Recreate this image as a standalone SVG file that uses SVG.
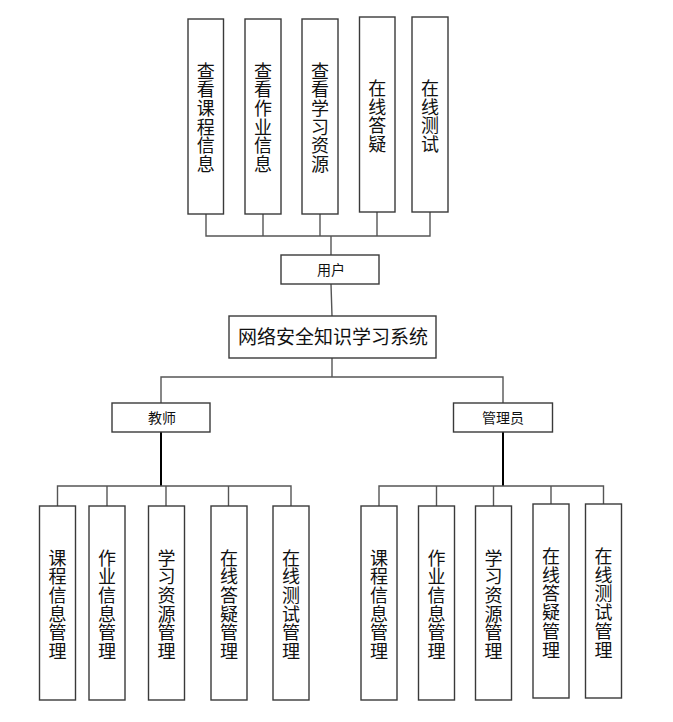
<svg xmlns="http://www.w3.org/2000/svg" width="673" height="722" viewBox="0 0 673 722">
<style>
.box{fill:#fff;stroke:#3a3a3a;stroke-width:1.4}
.t{font-family:"Noto Sans CJK SC","Noto Sans",sans-serif;fill:#111;text-anchor:middle}
.v{font-size:18px}
.s{font-size:14px}
.conn line,.conn polyline{stroke:#555;stroke-width:1.4;fill:none}
.conn .thick{stroke:#000;stroke-width:2}
</style>
<rect width="673" height="722" fill="#fff"/>
<g class="conn">
<polyline points="206,214 206,236 430,236 430,212"/>
<line x1="263" y1="214" x2="263" y2="236"/>
<line x1="320" y1="214" x2="320" y2="236"/>
<line x1="377" y1="212" x2="377" y2="236"/>
<line x1="331" y1="236" x2="331" y2="255"/>
<line x1="331" y1="284" x2="332" y2="316"/>
<line x1="332" y1="358" x2="332" y2="377"/>
<polyline points="161,403 161,377 503,377 503,403"/>
<line class="thick" x1="161" y1="432" x2="161" y2="486"/>
<polyline points="57.5,506 57.5,486 291,486 291,506"/>
<line x1="107" y1="486" x2="107" y2="506"/>
<line x1="166" y1="486" x2="166" y2="506"/>
<line x1="228.5" y1="486" x2="228.5" y2="506"/>
<line class="thick" x1="503" y1="432" x2="503" y2="486"/>
<polyline points="379,506 379,486 603.5,486 603.5,504"/>
<line x1="436.5" y1="486" x2="436.5" y2="506"/>
<line x1="493.5" y1="486" x2="493.5" y2="506"/>
<line x1="551" y1="486" x2="551" y2="504"/>
</g>
<g id="top1"><rect class="box" x="188" y="19" width="35.5" height="195"/><text class="t v" x="205.75"><tspan x="205.75" y="77.5">查</tspan><tspan x="205.75" dy="18.7">看</tspan><tspan x="205.75" dy="18.7">课</tspan><tspan x="205.75" dy="18.7">程</tspan><tspan x="205.75" dy="18.7">信</tspan><tspan x="205.75" dy="18.7">息</tspan></text></g>
<g id="top2"><rect class="box" x="245" y="19" width="36" height="195"/><text class="t v"><tspan x="263" y="77.5">查</tspan><tspan x="263" dy="18.7">看</tspan><tspan x="263" dy="18.7">作</tspan><tspan x="263" dy="18.7">业</tspan><tspan x="263" dy="18.7">信</tspan><tspan x="263" dy="18.7">息</tspan></text></g>
<g id="top3"><rect class="box" x="302" y="19" width="36" height="195"/><text class="t v"><tspan x="320" y="77.5">查</tspan><tspan x="320" dy="18.7">看</tspan><tspan x="320" dy="18.7">学</tspan><tspan x="320" dy="18.7">习</tspan><tspan x="320" dy="18.7">资</tspan><tspan x="320" dy="18.7">源</tspan></text></g>
<g id="top4"><rect class="box" x="359.5" y="17" width="35.5" height="195"/><text class="t v"><tspan x="377.25" y="95">在</tspan><tspan x="377.25" dy="18.7">线</tspan><tspan x="377.25" dy="18.7">答</tspan><tspan x="377.25" dy="18.7">疑</tspan></text></g>
<g id="top5"><rect class="box" x="412" y="17" width="36" height="195"/><text class="t v"><tspan x="430" y="95">在</tspan><tspan x="430" dy="18.7">线</tspan><tspan x="430" dy="18.7">测</tspan><tspan x="430" dy="18.7">试</tspan></text></g>
<g id="user"><rect class="box" x="281" y="255" width="98" height="29"/><text class="t s" x="331" y="275">用户</text></g>
<g id="system"><rect class="box" x="229" y="316" width="207" height="42"/><text class="t" font-size="19" x="333" y="344">网络安全知识学习系统</text></g>
<g id="teacher"><rect class="box" x="112" y="403" width="98" height="29"/><text class="t s" x="162" y="422.5">教师</text></g>
<g id="admin"><rect class="box" x="453.5" y="403" width="99" height="29"/><text class="t s" x="503" y="422.5">管理员</text></g>
<g id="tc1"><rect class="box" x="39.5" y="506" width="36" height="194"/><text class="t v"><tspan x="57.5" y="564.5">课</tspan><tspan x="57.5" dy="18.7">程</tspan><tspan x="57.5" dy="18.7">信</tspan><tspan x="57.5" dy="18.7">息</tspan><tspan x="57.5" dy="18.7">管</tspan><tspan x="57.5" dy="18.7">理</tspan></text></g>
<g id="tc2"><rect class="box" x="89" y="506" width="36" height="194"/><text class="t v"><tspan x="107" y="564.5">作</tspan><tspan x="107" dy="18.7">业</tspan><tspan x="107" dy="18.7">信</tspan><tspan x="107" dy="18.7">息</tspan><tspan x="107" dy="18.7">管</tspan><tspan x="107" dy="18.7">理</tspan></text></g>
<g id="tc3"><rect class="box" x="148.5" y="506" width="36" height="194"/><text class="t v"><tspan x="166.5" y="564.5">学</tspan><tspan x="166.5" dy="18.7">习</tspan><tspan x="166.5" dy="18.7">资</tspan><tspan x="166.5" dy="18.7">源</tspan><tspan x="166.5" dy="18.7">管</tspan><tspan x="166.5" dy="18.7">理</tspan></text></g>
<g id="tc4"><rect class="box" x="211" y="506" width="36" height="194"/><text class="t v"><tspan x="229" y="564.5">在</tspan><tspan x="229" dy="18.7">线</tspan><tspan x="229" dy="18.7">答</tspan><tspan x="229" dy="18.7">疑</tspan><tspan x="229" dy="18.7">管</tspan><tspan x="229" dy="18.7">理</tspan></text></g>
<g id="tc5"><rect class="box" x="273" y="506" width="36" height="194"/><text class="t v"><tspan x="291" y="564.5">在</tspan><tspan x="291" dy="18.7">线</tspan><tspan x="291" dy="18.7">测</tspan><tspan x="291" dy="18.7">试</tspan><tspan x="291" dy="18.7">管</tspan><tspan x="291" dy="18.7">理</tspan></text></g>
<g id="ad1"><rect class="box" x="361" y="506" width="36" height="194"/><text class="t v"><tspan x="379" y="564.5">课</tspan><tspan x="379" dy="18.7">程</tspan><tspan x="379" dy="18.7">信</tspan><tspan x="379" dy="18.7">息</tspan><tspan x="379" dy="18.7">管</tspan><tspan x="379" dy="18.7">理</tspan></text></g>
<g id="ad2"><rect class="box" x="418.5" y="506" width="36" height="194"/><text class="t v"><tspan x="436.5" y="564.5">作</tspan><tspan x="436.5" dy="18.7">业</tspan><tspan x="436.5" dy="18.7">信</tspan><tspan x="436.5" dy="18.7">息</tspan><tspan x="436.5" dy="18.7">管</tspan><tspan x="436.5" dy="18.7">理</tspan></text></g>
<g id="ad3"><rect class="box" x="475.5" y="506" width="36" height="194"/><text class="t v"><tspan x="493.5" y="564.5">学</tspan><tspan x="493.5" dy="18.7">习</tspan><tspan x="493.5" dy="18.7">资</tspan><tspan x="493.5" dy="18.7">源</tspan><tspan x="493.5" dy="18.7">管</tspan><tspan x="493.5" dy="18.7">理</tspan></text></g>
<g id="ad4"><rect class="box" x="533" y="504" width="36" height="194"/><text class="t v"><tspan x="551" y="563">在</tspan><tspan x="551" dy="18.7">线</tspan><tspan x="551" dy="18.7">答</tspan><tspan x="551" dy="18.7">疑</tspan><tspan x="551" dy="18.7">管</tspan><tspan x="551" dy="18.7">理</tspan></text></g>
<g id="ad5"><rect class="box" x="585.5" y="504" width="36" height="194"/><text class="t v"><tspan x="603.5" y="563">在</tspan><tspan x="603.5" dy="18.7">线</tspan><tspan x="603.5" dy="18.7">测</tspan><tspan x="603.5" dy="18.7">试</tspan><tspan x="603.5" dy="18.7">管</tspan><tspan x="603.5" dy="18.7">理</tspan></text></g>
</svg>
